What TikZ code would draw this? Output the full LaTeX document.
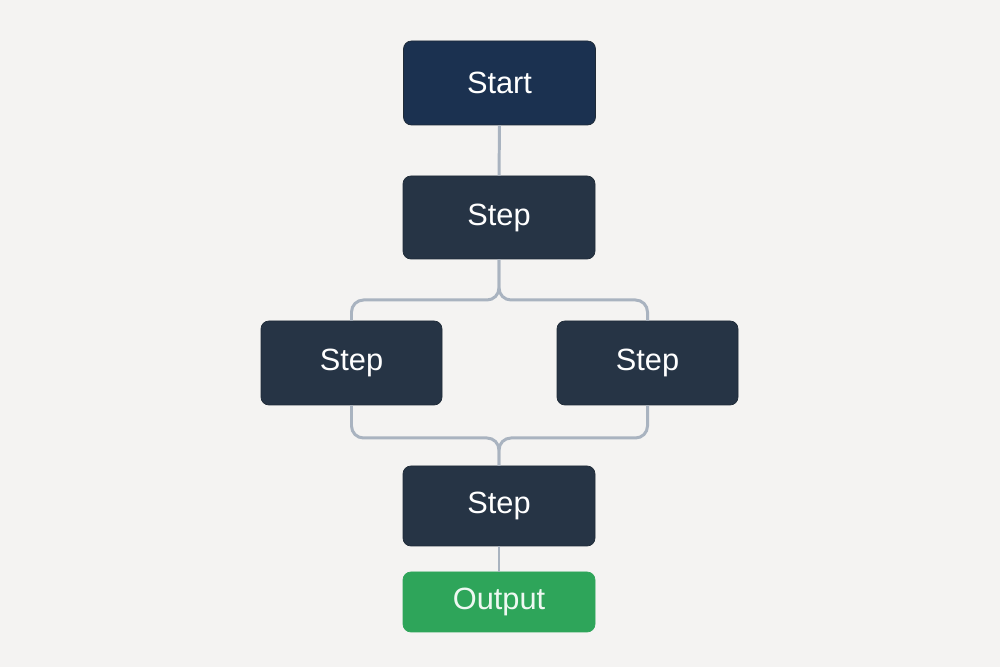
\documentclass[tikz,border=0pt]{standalone}
\usepackage{fontspec}
\setmainfont{Liberation Sans}
\definecolor{pagebg}{HTML}{F4F3F2}
\definecolor{navybox}{HTML}{1B3150}
\definecolor{slatebox}{HTML}{263445}
\definecolor{greenbox}{HTML}{2EA55A}
\definecolor{linkgray}{HTML}{A9B3C0}
\tikzset{
  stepbox/.style={fill=slatebox, draw=slatebox!80!black, rounded corners=4.5pt,
    minimum width=3.84cm, minimum height=1.66cm, text=white, font=\fontsize{17.5}{20}\selectfont},
  link/.style={draw=linkgray, line width=1.7pt, rounded corners=0.24cm}
}
\begin{document}
\begin{tikzpicture}
    \fill[pagebg] (0,0) rectangle (20,13.34);
    \useasboundingbox (0,0) rectangle (20,13.34);
    \node[stepbox, fill=navybox, minimum height=1.68cm] (start) at (9.99,11.68) {Start};
    \node[stepbox] (step1) at (9.98,8.99) {Step};
    \node[stepbox, minimum width=3.62cm, minimum height=1.68cm] (stepL) at (7.03,6.08) {Step};
    \node[stepbox, minimum width=3.62cm, minimum height=1.68cm] (stepR) at (12.95,6.08) {Step};
    \node[stepbox, minimum height=1.6cm] (step2) at (9.98,3.22) {Step};
    \node[stepbox, fill=greenbox, draw=greenbox, minimum height=1.2cm, text=white!92!greenbox] (output) at (9.98,1.30) {Output};
    \coordinate (split) at (9.98,7.34);
    \coordinate (merge) at (9.98,4.58);
    \draw[link] (start) -- (step1);
    \draw[link] (step1.south) -- (split) -| (stepL.north);
    \draw[link] (step1.south) -- (split) -| (stepR.north);
    \draw[link] (stepL.south) |- (merge) -- (step2.north);
    \draw[link] (stepR.south) |- (merge) -- (step2.north);
    \draw[link] (step2) -- (output);
\end{tikzpicture}
\end{document}
